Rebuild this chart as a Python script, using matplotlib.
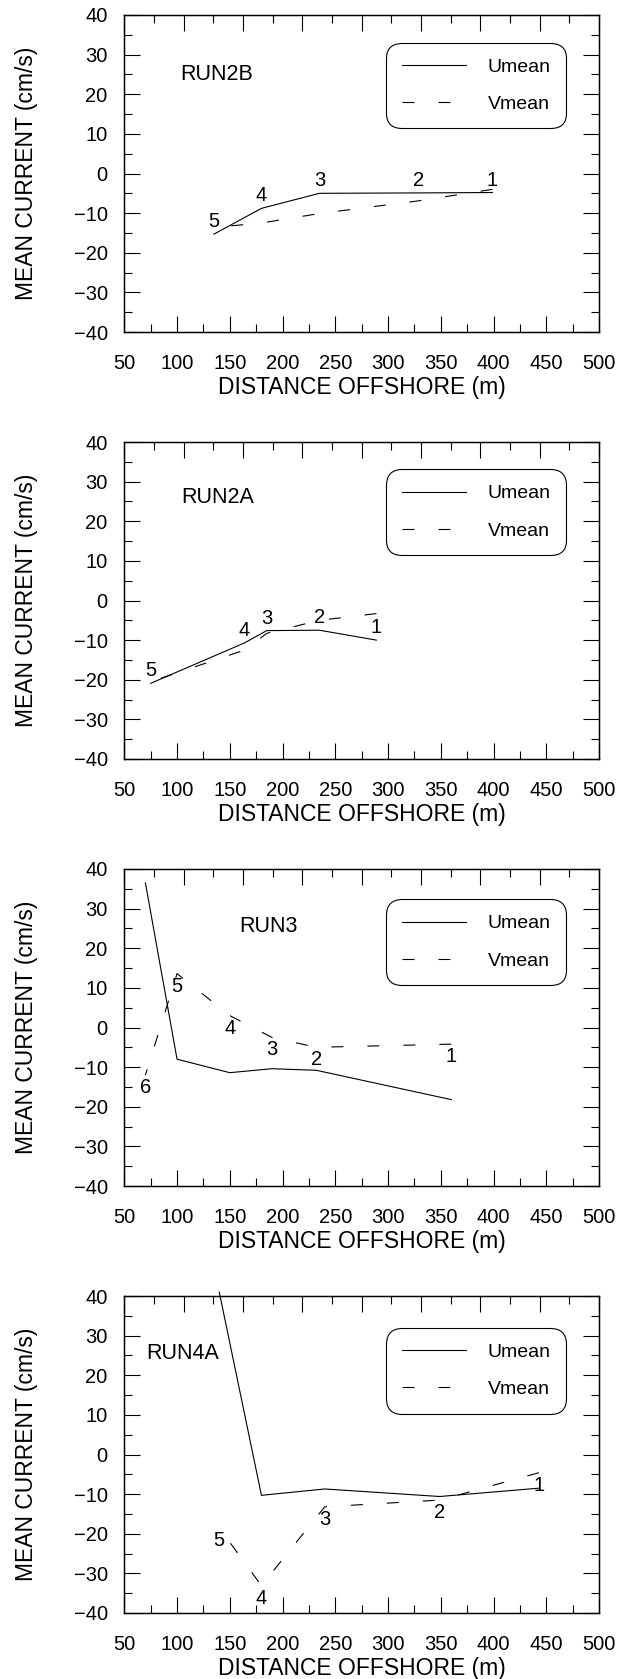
import numpy as np
import matplotlib
matplotlib.use('Agg')
from matplotlib import pyplot as plt
from matplotlib.ticker import MultipleLocator

plt.rcParams['font.family'] = ['Liberation Sans', 'DejaVu Sans']
plt.rcParams['lines.scale_dashes'] = False

# run names
runs = ['RUN2B', 'RUN2A', 'RUN3', 'RUN4A']

# station numbers, distance offshore (m), mean currents (cm/s)
st_2b = ['1', '2', '3', '4', '5']
x_2b = [399, 329, 235, 180, 135]
u_2b = [-4.8, -4.9, -5.0, -8.8, -15.3]
v_2b = [-4.0, -6.9, -10.1, -12.5, -13.6]

st_2a = ['1', '2', '3', '4', '5']
x_2a = [289, 235, 185, 164, 75]
u_2a = [-10.0, -7.5, -7.6, -10.7, -20.9]
v_2a = [-3.3, -5.0, -8.3, -12.5, -20.5]

st_3 = ['1', '2', '3', '4', '5', '6']
x_3 = [360, 232, 190, 150, 100, 70]
u_3 = [-18.2, -10.8, -10.4, -11.4, -8.0, 36.5]
v_3 = [-4.2, -5.0, -2.5, 3.0, 13.6, -12.0]

st_4a = ['1', '2', '3', '4', '5']
x_4a = [443, 349, 240, 180, 140]
u_4a = [-8.5, -10.6, -8.7, -10.3, 41.0]
v_4a = [-4.6, -11.5, -13.2, -33.1, -18.5]

panels = [
    (st_2b, x_2b, u_2b, v_2b),
    (st_2a, x_2a, u_2a, v_2a),
    (st_3, x_3, u_3, v_3),
    (st_4a, x_4a, u_4a, v_4a),
]

# layout stuff (pixels on a 629x1679 canvas)
W, H = 629, 1679
ax_left, ax_w, ax_h = 124.3, 474.7, 317
title_pos = [(103, 25.1), (104, 26.1), (159, 25.6), (71, 25.5)]
legend_off = [27.7, 27.3, 30.3, 32.0]
label_on_u = [True, True, False, False]
dash = (8.6, 17.3)

fig = plt.figure(figsize=(W / 100, H / 100), dpi=100)

for i, (st, xs, us, vs) in enumerate(panels):
    top = 15 + 427 * i
    ax = fig.add_axes([ax_left / W, 1 - (top + ax_h) / H, ax_w / W, ax_h / H])
    ax.set_xlim(50, 500)
    ax.set_ylim(-40, 40)

    ax.plot(xs, us, color='black', lw=0.8, clip_on=False, label='Umean')
    ax.plot(xs, vs, color='black', lw=0.8, dashes=dash, clip_on=False, label='Vmean')

    # station numbers
    for k in range(len(st)):
        if label_on_u[i]:
            ax.annotate(st[k], (xs[k], us[k]), xytext=(0, 9), textcoords='offset points',
                        ha='center', va='center', fontsize=14.5)
        else:
            ax.annotate(st[k], (xs[k], vs[k]), xytext=(0, -9), textcoords='offset points',
                        ha='center', va='center', fontsize=14.5)

    ax.text(title_pos[i][0], title_pos[i][1], runs[i], ha='left', va='center', fontsize=15.5)

    ax.xaxis.set_major_locator(MultipleLocator(50))
    ax.xaxis.set_minor_locator(MultipleLocator(25))
    ax.yaxis.set_major_locator(MultipleLocator(10))
    ax.yaxis.set_minor_locator(MultipleLocator(5))
    ax.tick_params(which='both', direction='in', top=False, right=True, labelsize=14.5, width=0.8)
    ax.tick_params(which='major', length=11.5)
    ax.tick_params(which='minor', length=5.8)
    ax.tick_params(axis='x', pad=16)
    ax.tick_params(axis='y', pad=12)
    for s in ax.spines.values():
        s.set_linewidth(1.0)

    ax.set_xlabel('DISTANCE OFFSHORE (m)', fontsize=16.5)
    ax.xaxis.set_label_coords(0.5, -0.139)
    ax.set_ylabel('MEAN CURRENT (cm/s)', fontsize=16.5)
    ax.yaxis.set_label_coords(-0.182, 0.5)

    # top axis has its own tick spacing, no labels
    ax2 = ax.twiny()
    ax2.set_xlim(0, 16)
    ax2.xaxis.set_major_locator(MultipleLocator(2))
    ax2.xaxis.set_minor_locator(MultipleLocator(1))
    ax2.tick_params(axis='x', which='both', direction='in', top=True, labeltop=False, width=0.8)
    ax2.tick_params(axis='x', which='major', length=11.5)
    ax2.tick_params(axis='x', which='minor', length=5.8)

    leg = ax.legend(loc='upper right', bbox_to_anchor=((566 - ax_left) / ax_w, 1 - legend_off[i] / ax_h),
                    borderaxespad=0, fontsize=14, handlelength=3.3, handletextpad=1.1,
                    borderpad=0.8, labelspacing=1.0, fancybox=True, framealpha=1,
                    edgecolor='black')
    leg.get_frame().set_boxstyle('round', pad=0, rounding_size=0.8)
    leg.get_frame().set_linewidth(0.8)

fig.savefig('out.png', dpi=100)
